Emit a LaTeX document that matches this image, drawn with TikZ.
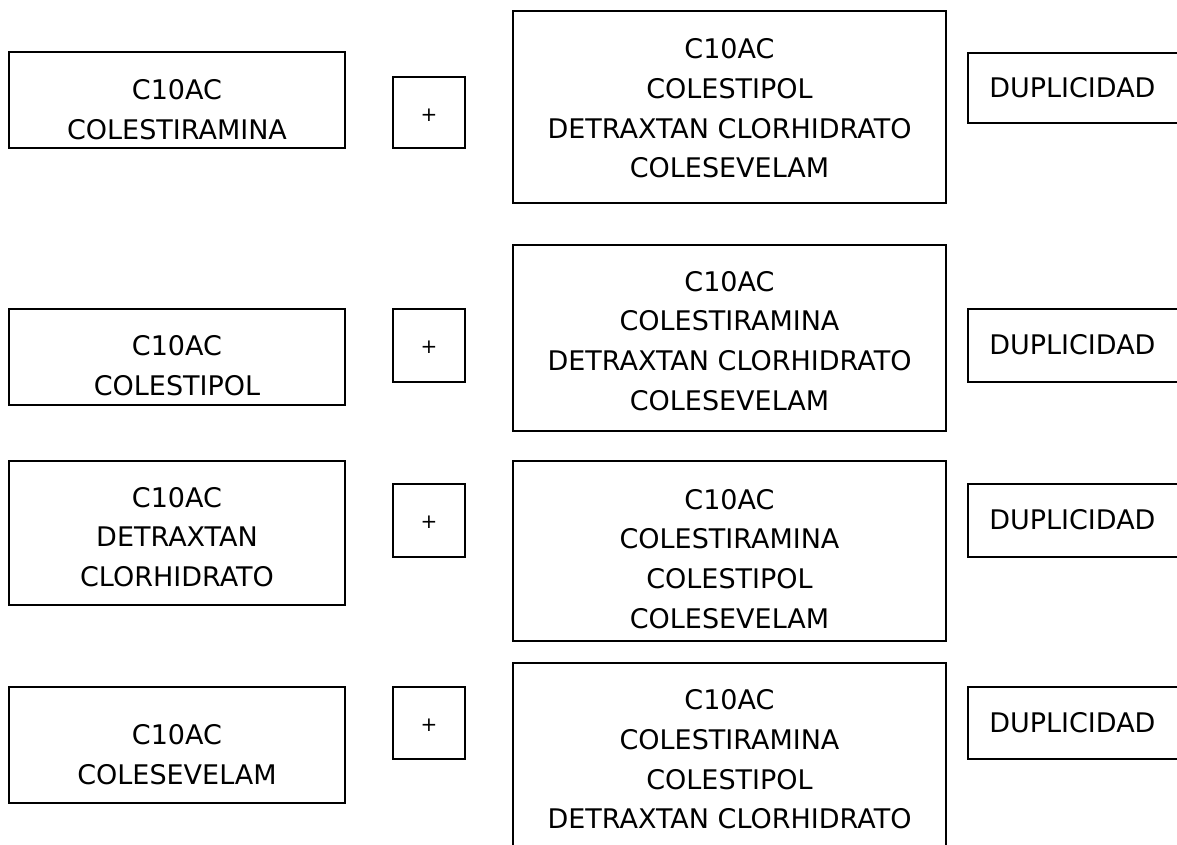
\documentclass[tikz,border=0pt]{standalone}
\usepackage{fontspec}
\setmainfont{DejaVu Sans}
\usetikzlibrary{fit}
\tikzset{
  framebox/.style={draw=black, line width=1.1pt, inner sep=0pt, fit={#1}},
  txt/.style={align=center, inner sep=0pt, font=\fontsize{20.25pt}{29.8pt}\selectfont},
  plustxt/.style={inner sep=0pt, font=\fontsize{15pt}{18pt}\selectfont},
  duptxt/.style={anchor=west, inner sep=0pt, font=\fontsize{20.25pt}{29.8pt}\selectfont}
}
\begin{document}
\begin{tikzpicture}[x=0.75pt, y=-0.75pt]
  \useasboundingbox (0,0) rectangle (1177,845);
  \clip (0,0) rectangle (1177,845);

  % row 1
  \node[framebox={(9,52) (345,148)}] (l1) {};
  \node[txt] (l1t) at (177,110) {C10AC\\COLESTIRAMINA};
  \node[framebox={(393,77) (465,148)}] (p1) {};
  \node[plustxt] (p1t) at (429,115) {+};
  \node[framebox={(513,11) (946,203)}] (m1) {};
  \node[txt] (m1t) at (729.5,108.5) {C10AC\\COLESTIPOL\\DETRAXTAN CLORHIDRATO\\COLESEVELAM};
  \node[framebox={(968,53) (1190,123)}] (d1) {};
  \node[duptxt] (d1t) at (989,88) {DUPLICIDAD};

  % row 2
  \node[framebox={(9,309) (345,405)}] (l2) {};
  \node[txt] (l2t) at (177,366) {C10AC\\COLESTIPOL};
  \node[framebox={(393,309) (465,382)}] (p2) {};
  \node[plustxt] (p2t) at (429,347) {+};
  \node[framebox={(513,245) (946,431)}] (m2) {};
  \node[txt] (m2t) at (729.5,341) {C10AC\\COLESTIRAMINA\\DETRAXTAN CLORHIDRATO\\COLESEVELAM};
  \node[framebox={(968,309) (1190,382)}] (d2) {};
  \node[duptxt] (d2t) at (989,345) {DUPLICIDAD};

  % row 3
  \node[framebox={(9,461) (345,605)}] (l3) {};
  \node[txt] (l3t) at (177,537) {C10AC\\DETRAXTAN\\CLORHIDRATO};
  \node[framebox={(393,484) (465,557)}] (p3) {};
  \node[plustxt] (p3t) at (429,522) {+};
  \node[framebox={(513,461) (946,641)}] (m3) {};
  \node[txt] (m3t) at (729.5,559) {C10AC\\COLESTIRAMINA\\COLESTIPOL\\COLESEVELAM};
  \node[framebox={(968,484) (1190,557)}] (d3) {};
  \node[duptxt] (d3t) at (989,520) {DUPLICIDAD};

  % row 4
  \node[framebox={(9,687) (345,803)}] (l4) {};
  \node[txt] (l4t) at (177,755) {C10AC\\COLESEVELAM};
  \node[framebox={(393,687) (465,759)}] (p4) {};
  \node[plustxt] (p4t) at (429,725) {+};
  \node[framebox={(513,663) (946,856)}] (m4) {};
  \node[txt] (m4t) at (729.5,759.5) {C10AC\\COLESTIRAMINA\\COLESTIPOL\\DETRAXTAN CLORHIDRATO};
  \node[framebox={(968,687) (1190,759)}] (d4) {};
  \node[duptxt] (d4t) at (989,723) {DUPLICIDAD};
\end{tikzpicture}
\end{document}
